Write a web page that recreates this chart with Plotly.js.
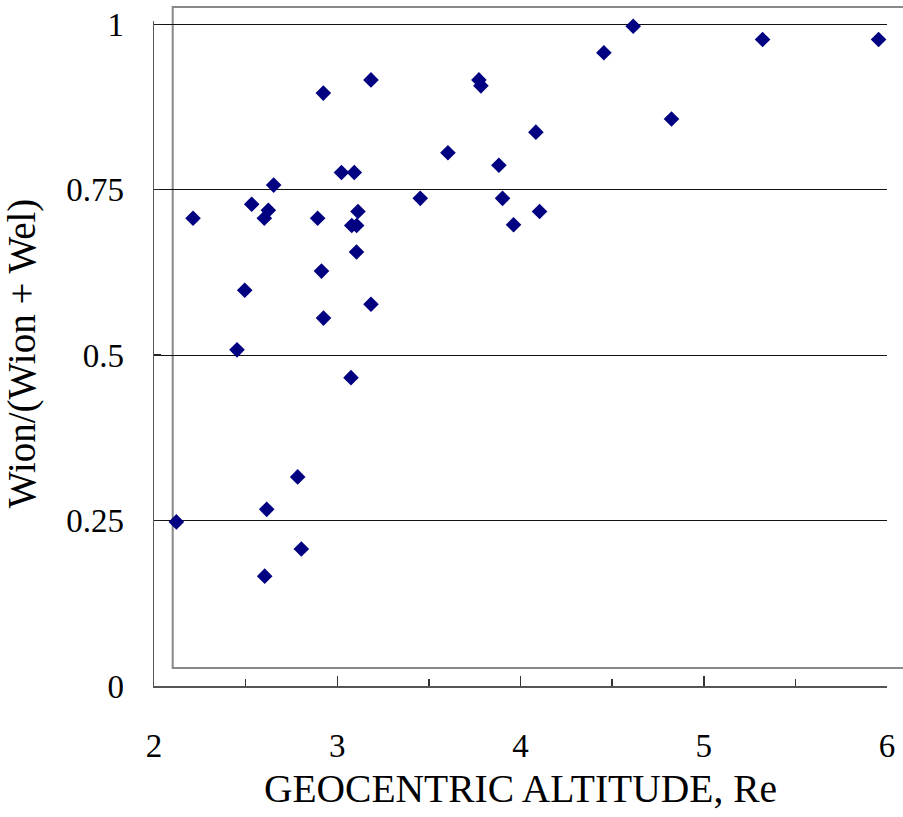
<!DOCTYPE html>
<html>
<head>
<meta charset="utf-8">
<script src="https://cdn.plot.ly/plotly-3.0.1.min.js"></script>
<style>html,body{margin:0;padding:0;background:#fff;}#chart{width:903px;height:817px;}</style>
</head>
<body>
<div id="chart"></div>
<script>
// Geocentric altitude (Re)
const altitude = [2.122, 2.213, 2.453, 2.495, 2.533, 2.602, 2.624, 2.653, 2.604, 2.615,
  2.784, 2.804, 2.893, 2.914, 2.925, 2.924, 3.023, 3.093, 3.113, 3.079,
  3.106, 3.105, 3.075, 3.184, 3.184, 3.453, 3.604, 3.773, 3.784, 3.882,
  3.902, 3.962, 4.084, 4.104, 4.455, 4.615, 4.824, 5.321, 5.354, 5.954];
// Wion/(Wion + Wel)
const ratio = [0.248, 0.707, 0.508, 0.598, 0.728, 0.707, 0.719, 0.757, 0.166, 0.267,
  0.316, 0.207, 0.707, 0.627, 0.556, 0.896, 0.776, 0.776, 0.717, 0.696,
  0.696, 0.656, 0.466, 0.577, 0.916, 0.737, 0.806, 0.916, 0.907, 0.787,
  0.737, 0.697, 0.837, 0.717, 0.957, 0.997, 0.857, 0.977, 1.016, 0.977];
const xTicks = [2, 3, 4, 5, 6];
const xTickText = ['2', '3', '4', '5', '6'];
const yTicks = [0, 0.25, 0.5, 0.75, 1];
const yTickText = ['0', '0.25', '0.5', '0.75', '1'];
const xTitle = 'GEOCENTRIC ALTITUDE, Re';
const yTitle = 'Wion/(Wion + Wel)';

const FONT = 'Times New Roman';

const trace = {
  x: altitude, y: ratio, type: 'scatter', mode: 'markers',
  cliponaxis: false,
  marker: {symbol: 'diamond', size: 12, color: '#000080', line: {width: 0}},
  hoverinfo: 'x+y'
};

const layout = {
  width: 903, height: 817,
  margin: {l: 154, r: 16, t: 21, b: 131, pad: 0},
  paper_bgcolor: '#fff', plot_bgcolor: 'rgba(0,0,0,0)',
  showlegend: false,
  font: {family: FONT, color: '#000'},
  xaxis: {
    range: [2, 6], tickmode: 'array', tickvals: xTicks, ticktext: xTickText,
    ticks: 'inside', ticklen: 10, tickwidth: 1.5, tickcolor: '#333',
    minor: {dtick: 0.5, tick0: 2, ticks: 'inside', ticklen: 7, tickwidth: 1.5, tickcolor: '#333', showgrid: false},
    showline: true, linecolor: '#555', linewidth: 1.5,
    showgrid: false, zeroline: false,
    tickfont: {family: FONT, size: 33, color: '#000'},
    ticklabelstandoff: 30,
    title: {text: xTitle, font: {family: FONT, size: 39.5, color: '#000'}, standoff: 11}
  },
  yaxis: {
    range: [0, 1.005], tickmode: 'array', tickvals: yTicks, ticktext: yTickText,
    ticks: 'inside', ticklen: 7, tickwidth: 1.5, tickcolor: '#222',
    showline: true, linecolor: '#555', linewidth: 1.5,
    showgrid: true, gridcolor: '#111', gridwidth: 1, zeroline: false,
    tickfont: {family: FONT, size: 33, color: '#000'},
    ticklabelstandoff: 22,
    title: {text: yTitle, font: {family: FONT, size: 39, color: '#000'}, standoff: 18}
  },
  shapes: [{
    type: 'rect', xref: 'paper', yref: 'paper', layer: 'below',
    x0: 0.0255, x1: 1.03, y0: 0.0272, y1: 1.0211,
    line: {color: '#888', width: 2}, fillcolor: 'rgba(0,0,0,0)'
  }]
};

Plotly.newPlot('chart', [trace], layout, {displayModeBar: false, staticPlot: true});
</script>
</body>
</html>
